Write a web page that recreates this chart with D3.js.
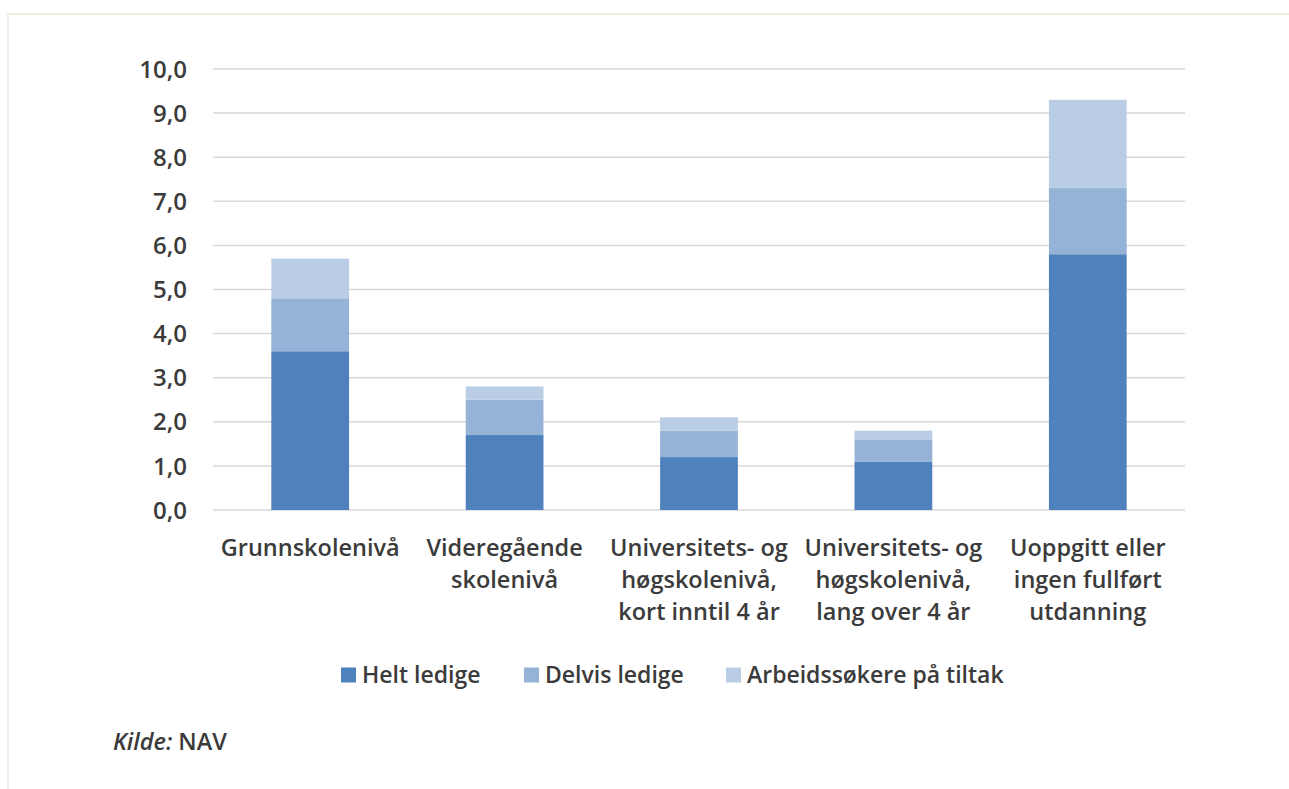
<!DOCTYPE html>
<html>
<head>
<meta charset="utf-8">
<script src="https://cdn.jsdelivr.net/npm/d3@7"></script>
<style>
  body { margin: 0; background: #fff; }
  text { font-family: "Open Sans", "Liberation Sans", sans-serif; fill: #3b3b3b; font-weight: 600; }
</style>
</head>
<body>
<svg id="chart" width="1289" height="789"></svg>
<script>
var categories = [
  ["Grunnskolenivå"],
  ["Videregående", "skolenivå"],
  ["Universitets- og", "høgskolenivå,", "kort inntil 4 år"],
  ["Universitets- og", "høgskolenivå,", "lang over 4 år"],
  ["Uoppgitt eller", "ingen fullført", "utdanning"]
]
var seriesNames = ["Helt ledige", "Delvis ledige", "Arbeidssøkere på tiltak"]
var heltLedige = [3.6, 1.7, 1.2, 1.1, 5.8]
var delvisLedige = [1.2, 0.8, 0.6, 0.5, 1.5]
var paTiltak = [0.9, 0.3, 0.3, 0.2, 2.0]
var yTicks = [0, 1, 2, 3, 4, 5, 6, 7, 8, 9, 10]
var colors = ["#4f81bd", "#95b3d7", "#b9cde5"]

var svg = d3.select("#chart")

// frame
svg.append("path")
  .attr("d", "M8 789 L8 14 L1289 14")
  .attr("fill", "none")
  .attr("stroke", "#f1eee4")
  .attr("stroke-width", 2)

var m = { left: 213, right: 1185, top: 69, bottom: 510 }

var rows = categories.map((c, i) => ({
  key: i, h: heltLedige[i], d: delvisLedige[i], t: paTiltak[i]
}))
var stack = d3.stack().keys(["h", "d", "t"])(rows)

var x = d3.scaleBand()
  .domain(d3.range(categories.length))
  .range([m.left, m.right])
  .paddingInner(0.6)
  .paddingOuter(0.3)
var y = d3.scaleLinear().domain([0, 10]).range([m.bottom, m.top])

// grid
svg.append("g")
  .selectAll("line")
  .data(yTicks)
  .join("line")
  .attr("x1", m.left).attr("x2", m.right)
  .attr("y1", d => y(d)).attr("y2", d => y(d))
  .attr("stroke", "#d9d9d9")
  .attr("stroke-width", 1.5)

// y labels
svg.append("g")
  .selectAll("text")
  .data(yTicks)
  .join("text")
  .attr("x", 187)
  .attr("y", d => y(d))
  .attr("dy", "0.36em")
  .attr("text-anchor", "end")
  .style("font-size", "24px")
  .text(d => d3.format(".1f")(d).replace(".", ","))

// bars
svg.append("g")
  .selectAll("g")
  .data(stack)
  .join("g")
  .attr("fill", (d, i) => colors[i])
  .selectAll("rect")
  .data(d => d)
  .join("rect")
  .attr("x", (d, i) => x(i))
  .attr("width", x.bandwidth())
  .attr("y", d => y(d[1]))
  .attr("height", d => y(d[0]) - y(d[1]))

// category labels
svg.append("g")
  .selectAll("text")
  .data(categories)
  .join("text")
  .attr("x", (d, i) => x(i) + x.bandwidth() / 2)
  .attr("y", 556)
  .attr("text-anchor", "middle")
  .style("font-size", "23.5px")
  .each(function (d) {
    d3.select(this).selectAll("tspan")
      .data(d)
      .join("tspan")
      .attr("x", d3.select(this).attr("x"))
      .attr("dy", (t, j) => j ? 32 : 0)
      .text(t => t)
  })

// legend
var legX = [341, 524, 726]
var leg = svg.append("g")
  .selectAll("g")
  .data(seriesNames)
  .join("g")
  .attr("transform", (d, i) => "translate(" + legX[i] + ",675)")
leg.append("rect")
  .attr("y", -7.5).attr("width", 15).attr("height", 15)
  .attr("fill", (d, i) => colors[i])
leg.append("text")
  .attr("x", 21).attr("dy", "0.36em")
  .style("font-size", "23px")
  .text(d => d)

// source
var src = svg.append("text")
  .attr("x", 113).attr("y", 750)
  .style("font-size", "23.5px")
src.append("tspan").style("font-style", "italic").text("Kilde:")
src.append("tspan").text(" NAV")
</script>
</body>
</html>
